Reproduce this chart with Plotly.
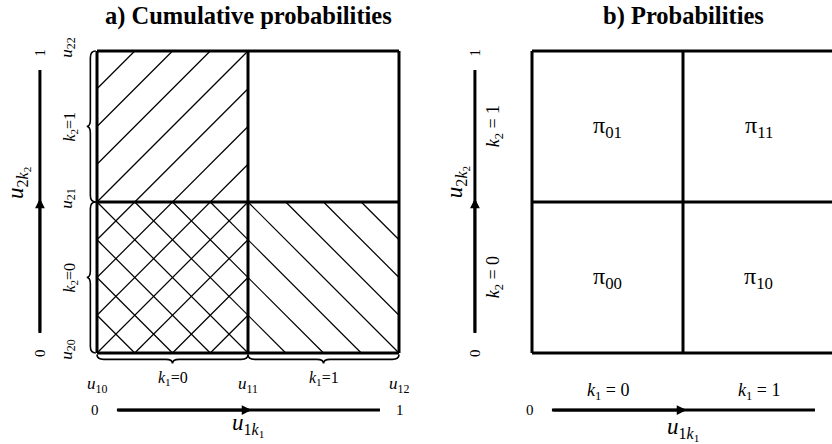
import math
import plotly.graph_objects as go

# ---------------- data ----------------
u1_cuts = [0.0, 0.5, 1.0]          # u10, u11, u12
u2_cuts = [0.0, 0.5, 1.0]          # u20, u21, u22
u1_names = ["10", "11", "12"]
u2_names = ["20", "21", "22"]
k1_levels = [0, 1]
k2_levels = [0, 1]
prob_names = [["00", "01"], ["10", "11"]]   # prob_names[k1][k2]
axis_ends = ["0", "1"]
panel_titles = ["a) Cumulative probabilities", "b) Probabilities"]
hatch_cells = [("column", 0, 1), ("row", 0, -1)]   # (k1=0 column '/'), (k2=0 row '\')
hatch_spacing = 0.125

# ---------------- geometry (pixels -> data) ----------------
W, H = 832, 444
PX = 302.0
box_left_px = [97, 532]
box_bottom_px = 353
FONT = "Liberation Serif, Tinos, Times New Roman, Times, DejaVu Serif, serif"
BLACK = "#000000"

fig = go.Figure()


def xr(p):
    return "x" if p == 0 else "x2"


def yr(p):
    return "y" if p == 0 else "y2"


def clip_segment(slope, c, x0, x1, y0, y1):
    xs = sorted([(y0 - c) / slope, (y1 - c) / slope])
    xa = max(x0, xs[0])
    xb = min(x1, xs[1])
    if xb - xa < 1e-9:
        return None
    return (xa, slope * xa + c), (xb, slope * xb + c)


shapes = []
annotations = []


def line_shape(p, x0, y0, x1, y1, w):
    shapes.append(dict(type="line", xref=xr(p), yref=yr(p), x0=x0, y0=y0, x1=x1, y1=y1,
                       line=dict(color=BLACK, width=w), layer="above"))


def text(p, x, y, t, size, angle=0, xanchor="center", yanchor="middle"):
    annotations.append(dict(xref=xr(p), yref=yr(p), x=x, y=y, text=t, showarrow=False,
                            textangle=angle, xanchor=xanchor, yanchor=yanchor,
                            font=dict(family=FONT, size=size, color=BLACK)))


def brace_path(a, b, pos_end, pos_body, pos_cusp, vertical, r=0.022):
    m = (a + b) / 2
    if vertical:
        P = lambda s, t: f"{t:.5f},{s:.5f}"
    else:
        P = lambda s, t: f"{s:.5f},{t:.5f}"
    return (f"M {P(a, pos_end)} Q {P(a, pos_body)} {P(a + r, pos_body)} "
            f"L {P(m - r, pos_body)} Q {P(m, pos_body)} {P(m, pos_cusp)} "
            f"Q {P(m, pos_body)} {P(m + r, pos_body)} L {P(b - r, pos_body)} "
            f"Q {P(b, pos_body)} {P(b, pos_end)}")


def arrow_axis(p, start, end, fixed, vertical):
    mid = (start + end) / 2
    if vertical:
        xs, ys = [fixed, fixed], [start, end]
        hx, hy, tx, ty = fixed, mid + 0.01, fixed, start
    else:
        xs, ys = [start, end], [fixed, fixed]
        hx, hy, tx, ty = mid + 0.01, fixed, start, fixed
    fig.add_trace(go.Scatter(x=xs, y=ys, mode="lines", line=dict(color=BLACK, width=3),
                             xaxis=xr(p), yaxis=yr(p), hoverinfo="skip", showlegend=False))
    annotations.append(dict(xref=xr(p), yref=yr(p), axref=xr(p), ayref=yr(p),
                            x=hx, y=hy, ax=tx, ay=ty, text="", showarrow=True,
                            arrowhead=2, arrowsize=0.75, arrowwidth=2.6, arrowcolor=BLACK))


u1_axis = "<i>u</i><sub>1<i>k</i><sub>1</sub></sub>"
u2_axis = "<i>u</i><sub>2<i>k</i><sub>2</sub></sub>"

for p in range(2):
    # cell grid
    w_box = 3
    for xc in u1_cuts:
        line_shape(p, xc, u2_cuts[0], xc, u2_cuts[-1], w_box)
    for yc in u2_cuts:
        line_shape(p, u1_cuts[0], yc, u1_cuts[-1], yc, w_box)

    # title (paper-anchored vertically so it is never hidden)
    annotations.append(dict(xref=xr(p), yref="paper",
                            x=(u1_cuts[0] + u1_cuts[-1]) / 2, y=1, yanchor="top", yshift=0,
                            text=f"<b>{panel_titles[p]}</b>", showarrow=False,
                            font=dict(family=FONT, size=24.5, color=BLACK)))

    # axis arrows with end labels
    arrow_axis(p, 0.066, 0.937, -0.189, vertical=True)
    arrow_axis(p, 0.066, 0.937, -0.189, vertical=False)
    text(p, -0.189, u2_cuts[0], axis_ends[0], 15, angle=-90)
    text(p, -0.189, u2_cuts[-1] - 0.005, axis_ends[1], 15, angle=-90)
    text(p, u1_cuts[0] - 0.005, -0.19, axis_ends[0], 15)
    text(p, u1_cuts[-1] + 0.002, -0.19, axis_ends[1], 15)

# ---------------- panel a ----------------
p = 0
hx, hy = [], []
for kind, level, slope in hatch_cells:
    if kind == "column":
        x0, x1, y0, y1 = u1_cuts[level], u1_cuts[level + 1], u2_cuts[0], u2_cuts[-1]
    else:
        x0, x1, y0, y1 = u1_cuts[0], u1_cuts[-1], u2_cuts[level], u2_cuts[level + 1]
    if slope > 0:
        cmin, cmax = y0 - x1, y1 - x0
    else:
        cmin, cmax = y0 + x0, y1 + x1
    n0 = math.ceil(cmin / hatch_spacing - 1e-9)
    n1 = math.floor(cmax / hatch_spacing + 1e-9)
    for n in range(n0, n1 + 1):
        seg = clip_segment(slope, n * hatch_spacing, x0, x1, y0, y1)
        if seg:
            hx += [seg[0][0], seg[1][0], None]
            hy += [seg[0][1], seg[1][1], None]
fig.add_trace(go.Scatter(x=hx, y=hy, mode="lines", line=dict(color=BLACK, width=1.2),
                         xaxis="x", yaxis="y", hoverinfo="skip", showlegend=False))

# braces
for i in range(len(u2_cuts) - 1):
    shapes.append(dict(type="path", xref="x", yref="y",
                       path=brace_path(u2_cuts[i], u2_cuts[i + 1], -0.004, -0.022, -0.034, True),
                       line=dict(color=BLACK, width=1.6)))
for i in range(len(u1_cuts) - 1):
    shapes.append(dict(type="path", xref="x", yref="y",
                       path=brace_path(u1_cuts[i], u1_cuts[i + 1], -0.005, -0.021, -0.035, False),
                       line=dict(color=BLACK, width=1.6)))

# cut point labels
for c, nm in zip(u1_cuts, u1_names):
    text(p, c, -0.106, f"<i>u</i><sub>{nm}</sub>", 17)
for c, nm in zip(u2_cuts, u2_names):
    text(p, -0.095, c + 0.012, f"<i>u</i><sub>{nm}</sub>", 17, angle=-90)
for i, k in enumerate(k1_levels):
    text(p, (u1_cuts[i] + u1_cuts[i + 1]) / 2, -0.083, f"<i>k</i><sub>1</sub>={k}", 16)
for i, k in enumerate(k2_levels):
    text(p, -0.089, (u2_cuts[i] + u2_cuts[i + 1]) / 2, f"<i>k</i><sub>2</sub>={k}", 16, angle=-90)
text(p, 0.5, -0.238, u1_axis, 23)
text(p, -0.262, 0.566, u2_axis, 23, angle=-90)

# ---------------- panel b ----------------
p = 1
for i, k1 in enumerate(k1_levels):
    for j, k2 in enumerate(k2_levels):
        text(p, (u1_cuts[i] + u1_cuts[i + 1]) / 2, (u2_cuts[j] + u2_cuts[j + 1]) / 2,
             f"π<sub>{prob_names[k1][k2]}</sub>", 24)
for i, k in enumerate(k1_levels):
    text(p, (u1_cuts[i] + u1_cuts[i + 1]) / 2, -0.128, f"<i>k</i><sub>1</sub> = {k}", 18)
for i, k in enumerate(k2_levels):
    text(p, -0.123, (u2_cuts[i] + u2_cuts[i + 1]) / 2, f"<i>k</i><sub>2</sub> = {k}", 18, angle=-90)
text(p, 0.5, -0.25, u1_axis, 23)
text(p, -0.248, 0.566, u2_axis, 23, angle=-90)

# ---------------- layout ----------------
def xrange(p):
    lo = (0 if p == 0 else W / 2)
    hi = (W / 2 if p == 0 else W)
    return [(lo - box_left_px[p]) / PX, (hi - box_left_px[p]) / PX]


yrange = [(box_bottom_px - H) / PX, box_bottom_px / PX]
ax_common = dict(visible=False, showgrid=False, zeroline=False, fixedrange=True)

fig.update_layout(
    width=W, height=H,
    margin=dict(l=0, r=0, t=0, b=0),
    paper_bgcolor="white", plot_bgcolor="white",
    showlegend=False,
    xaxis=dict(domain=[0, 0.5], range=xrange(0), **ax_common),
    yaxis=dict(domain=[0, 1], range=yrange, anchor="x", **ax_common),
    xaxis2=dict(domain=[0.5, 1], range=xrange(1), anchor="y2", **ax_common),
    yaxis2=dict(domain=[0, 1], range=yrange, anchor="x2", **ax_common),
    shapes=shapes,
    annotations=annotations,
)

fig.write_html("out.html")
